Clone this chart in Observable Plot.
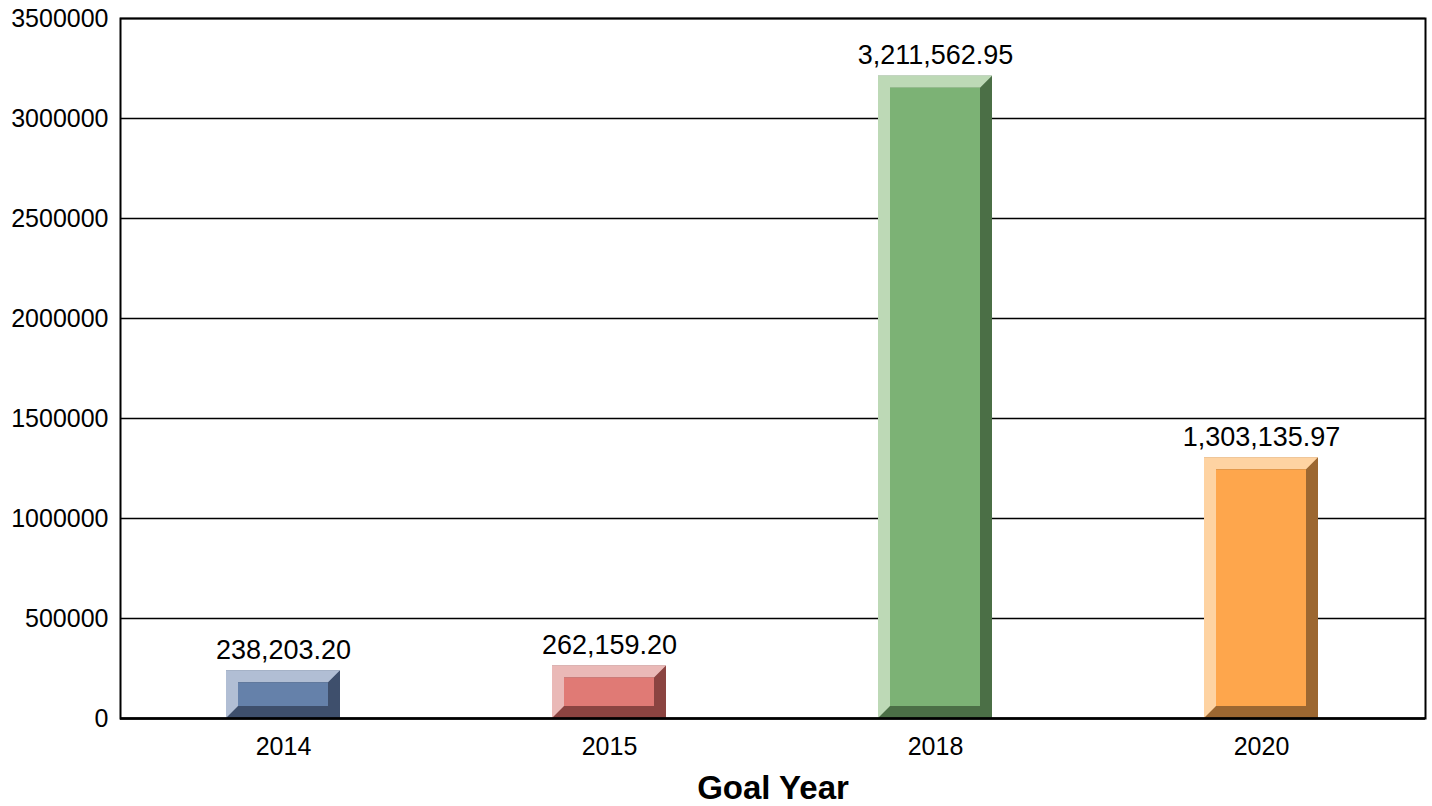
<!DOCTYPE html>
<html><head><meta charset="utf-8">
<script src="https://cdn.jsdelivr.net/npm/d3@7"></script>
<script src="https://cdn.jsdelivr.net/npm/@observablehq/plot@0.6"></script>
<style>body{margin:0;background:#fff;}</style>
</head><body><div id="chart"></div>
<script>
const years = ["2014", "2015", "2018", "2020"];
const amounts = [238203.20, 262159.20, 3211562.95, 1303135.97];
const faceColors = ["#6581aa", "#e07a75", "#7cb275", "#fea64c"];
const lightColors = ["#b1bed4", "#eab9b7", "#bdd9b6", "#fed3a2"];
const darkColors = ["#3e4f6c", "#8b4441", "#4b6f46", "#9c6731"];
const yTicks = [0, 500000, 1000000, 1500000, 2000000, 2500000, 3000000, 3500000];
const xLabel = "Goal Year";

const data = years.map((year, i) => ({
  year, amount: amounts[i], face: faceColors[i], light: lightColors[i], dark: darkColors[i]
}));

const fmt = d3.format(",.2f");
const bevel = 12;
const NS = "http://www.w3.org/2000/svg";

function bevelRender(index, scales, values, dimensions, context, next) {
  const g = next(index, scales, values, dimensions, context);
  const rects = Array.from(g.querySelectorAll("rect"));
  rects.forEach((r, k) => {
    const d = data[index[k]];
    const x0 = +r.getAttribute("x"), y0 = +r.getAttribute("y");
    const w = +r.getAttribute("width"), h = +r.getAttribute("height");
    const x1 = x0 + w, y1 = y0 + h, b = Math.min(bevel, w / 2, h / 2);
    const poly = document.createElementNS(NS, "polygon");
    poly.setAttribute("points", [
      [x0, y0], [x1, y0], [x1 - b, y0 + b], [x0 + b, y0 + b], [x0 + b, y1 - b], [x0, y1]
    ].map(p => p.join(",")).join(" "));
    poly.setAttribute("fill", d.light);
    const face = document.createElementNS(NS, "rect");
    face.setAttribute("x", x0 + b);
    face.setAttribute("y", y0 + b);
    face.setAttribute("width", Math.max(0, w - 2 * b));
    face.setAttribute("height", Math.max(0, h - 2 * b));
    face.setAttribute("fill", d.face);
    r.parentNode.appendChild(poly);
    r.parentNode.appendChild(face);
  });
  return g;
}

const chart = Plot.plot({
  width: 1432,
  height: 806,
  marginLeft: 120,
  marginRight: 7,
  marginTop: 18,
  marginBottom: 88,
  style: {fontFamily: "'Liberation Sans', Arial, sans-serif", background: "#fff", color: "#000"},
  x: {domain: years, paddingInner: 0.65, paddingOuter: 0.325},
  y: {domain: [0, 3500000]},
  marks: [
    Plot.ruleY(yTicks, {stroke: "#000", strokeWidth: 1.6}),
    Plot.barY(data, {x: "year", y: "amount", fill: d => d.dark, render: bevelRender}),
    Plot.text(data, {x: "year", y: "amount", text: d => fmt(d.amount), lineAnchor: "bottom", dy: -12, fontSize: 27, fill: "#000"}),
    Plot.axisY({ticks: yTicks, tickFormat: d => String(d), tickSize: 0, tickPadding: 12, fontSize: 25, label: null}),
    Plot.axisX({tickSize: 0, tickPadding: 19, fontSize: 25, label: null}),
    Plot.frame({stroke: "#000", strokeWidth: 2}),
    Plot.ruleY([0], {stroke: "#000", strokeWidth: 2.5}),
    Plot.text([xLabel], {frameAnchor: "bottom", lineAnchor: "top", dy: 57, fontSize: 33, fontWeight: "bold", fill: "#000"})
  ]
});
document.getElementById("chart").appendChild(chart);
</script>
</body></html>
